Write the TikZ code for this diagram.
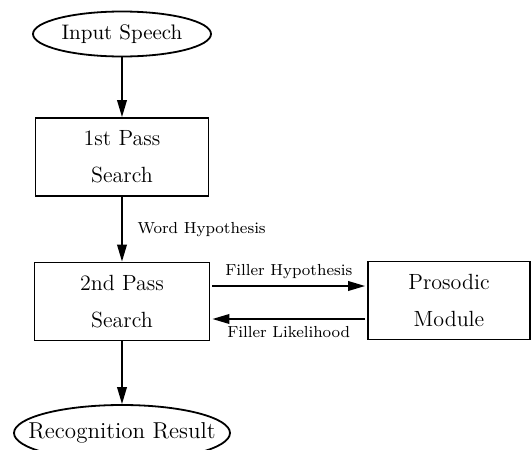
\documentclass[tikz,border=0pt]{standalone}
\usepackage{tikz}
\usetikzlibrary{shapes.geometric, arrows.meta}

\begin{document}
\begin{tikzpicture}[x=0.5pt, y=-0.5pt, line width=0.9pt,
    io/.style={draw, ellipse, inner sep=0pt, label={[font=\fontsize{#1}{13}\selectfont]center:\iotext}},
    module/.style={draw, rectangle, inner sep=0pt, align=center, minimum height=39pt, font=\fontsize{11}{13}\selectfont},
    flow/.style={-{Triangle[length=8.5pt, width=4.8pt]}},
    lbl/.style={font=\footnotesize}]
  \clip (0, 0) rectangle (532, 450);
  % nodes
  \def\iotext{Input Speech}
  \node[io=10.5, minimum width=89pt, minimum height=22.5pt] (speech) at (122, 34) {};
  \node[module, minimum width=86.5pt] (pass1) at (122, 157) {1st Pass\\[5.5pt]Search};
  \node[module, minimum width=87.5pt] (pass2) at (122, 301.5) {2nd Pass\\[5.5pt]Search};
  \node[module, minimum width=81pt] (prosody) at (449, 300.5) {Prosodic\\[5.5pt]Module};
  \def\iotext{Recognition Result}
  \node[io=11.5, minimum width=108pt, minimum height=28pt] (result) at (122, 433) {};
  % connectors
  \draw[flow] (speech) -- (pass1);
  \draw[flow] (pass1) -- (pass2) node[midway, right, lbl, xshift=4pt] {Word Hypothesis};
  \draw[flow] (pass2) -- (result);
  \draw[flow, shorten <=1pt, shorten >=1pt] ([yshift=7.75pt]pass2.east) -- ([yshift=7.25pt]prosody.west) node[midway, above, lbl] {Filler Hypothesis};
  \draw[flow, shorten <=1pt, shorten >=1pt] ([yshift=-9.25pt]prosody.west) -- ([yshift=-8.75pt]pass2.east) node[midway, below, lbl] {Filler Likelihood};
\end{tikzpicture}
\end{document}
